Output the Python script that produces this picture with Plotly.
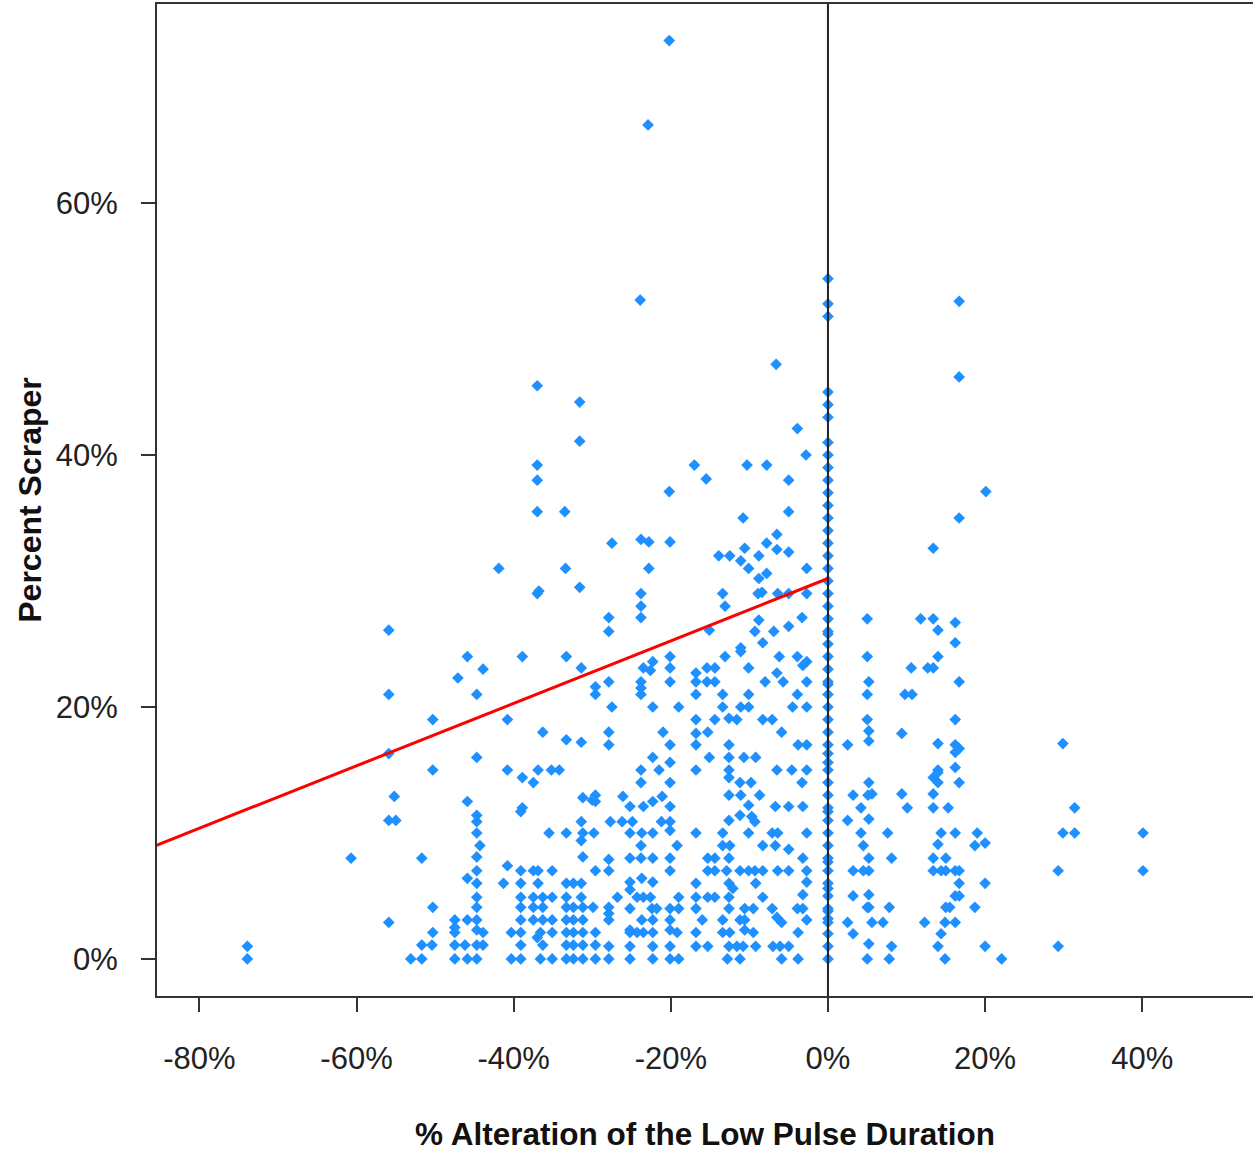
import plotly.graph_objects as go

# scatter points left of zero (% alteration, % scraper), row by row
alt_left = [
    -20.2, -22.9, -23.9, -6.6, -37.0, -31.6, -3.9, -31.6, -2.8, -37.0,
    -37.0, -17.0, -15.5, -10.3, -7.8, -20.2, -5.0, -37.0, -33.5, -10.8, -5.0,
    -6.5, -27.5, -23.8, -22.8, -20.1, -10.6, -7.8, -6.5, -5.0, -13.9,
    -12.5, -11.1, -8.8, -22.8, -10.1, -2.7, -7.8, -8.8, -41.9, -33.4,
    -31.6, -37.0, -36.8, -23.8, -13.4, -8.9, -8.4, -6.4, -5.0, -2.7,
    -23.8, -13.1, -23.8, -27.9, -27.9, -8.8, -3.3, -5.0, -15.1, -9.3, -6.9,
    -8.3, -11.1, -55.9, -45.9, -38.9, -33.3, -20.1, -13.1, -11.1, -6.2, -3.9,
    -43.9, -31.4, -47.1, -29.6, -29.6, -55.9, -44.7, -22.3, -2.7, -23.5, -22.6,
    -20.1, -15.4, -14.4, -10.1, -3.2, -16.8, -16.8, -6.5, -15.4, -14.4, -27.9,
    -23.8, -20.1, -8.0, -5.7, -2.7, -23.8, -23.8, -16.8, -13.4, -10.1, -3.9,
    -27.5, -22.3, -19.0, -13.4, -11.1, -10.1, -4.5, -2.7,
    -50.3, -40.8, -36.3, -33.3, -31.4, -55.9, -44.7, -16.8, -14.4, -12.6, -11.6,
    -8.3, -7.1, -27.9, -21.0, -16.8, -15.3, -5.9, -27.9, -20.1, -16.8, -12.6,
    -3.8, -2.7, -22.3, -20.1, -15.1, -12.6, -10.7, -9.2,
    -50.3, -40.8, -36.9, -35.2, -34.2, -23.8, -21.5, -16.8, -12.6, -6.5, -4.6, -2.7,
    -38.9, -37.5, -12.6, -23.8, -20.1, -11.2, -9.8, -3.3, -55.2, -45.9, -38.9,
    -31.2, -30.0, -29.6, -29.6, -26.1, -22.3, -21.1, -12.6, -11.1, -8.7, -10.1,
    -25.2, -23.5, -20.1, -6.7, -5.0, -3.2, -39.1, -55.9, -55.0, -44.7, -44.7,
    -31.4, -27.7, -26.2, -24.9, -21.2, -20.1, -11.2, -9.7, -9.3, -12.6,
    -44.7, -35.5, -33.3, -31.2, -29.8, -25.2, -23.7, -22.3, -20.1, -16.8, -13.4, -10.1, -7.1, -6.4, -2.7,
    -44.3, -31.4, -23.8, -19.2, -13.4, -12.5, -8.3, -6.7, -5.0,
    -60.7, -51.7, -44.7, -31.2, -27.9, -25.2, -23.8, -22.3, -20.1, -15.3, -14.4, -12.6, -3.2,
    -40.8, -44.7, -39.1, -37.5, -36.9, -35.1, -29.6, -27.9, -20.1, -15.3,
    -14.4, -12.9, -11.2, -10.1, -9.3, -8.3, -6.4, -5.0, -2.7,
    -45.9, -44.7, -41.3, -39.1, -36.9, -33.3, -32.4, -31.4, -25.2, -23.7, -22.3,
    -16.8, -12.6, -12.1, -9.2, -2.7, -25.2,
    -44.7, -39.1, -37.5, -36.3, -35.1, -33.3, -31.4, -26.8, -24.3, -23.5, -22.6,
    -19.0, -16.8, -15.3, -14.4, -12.6, -8.3, -3.2,
    -50.3, -44.7, -39.1, -37.5, -36.3, -33.3, -32.4, -31.2, -29.9, -27.9, -25.2,
    -22.4, -21.8, -20.1, -19.0, -16.8, -12.6, -10.6, -9.5, -7.1, -3.9, -3.2, -27.9,
    -55.9, -47.5, -45.9, -44.7, -39.1, -37.5, -36.3, -35.1, -33.3, -32.4, -31.2,
    -27.9, -23.7, -22.3, -20.1, -16.0, -13.4, -11.2, -10.6, -6.5, -5.9, -2.7,
    -47.5, -44.7, -25.2, -37.0,
    -50.3, -47.5, -43.9, -40.3, -39.1, -36.6, -35.1, -33.3, -32.4, -31.2, -29.6, -25.2,
    -24.3, -23.5, -22.3, -20.1, -19.2, -16.8, -13.4, -12.5, -10.6, -9.5, -3.8,
    -51.7, -50.4, -47.5, -46.2, -44.7, -43.9, -39.1, -36.3, -33.3, -32.4, -31.2, -29.6,
    -27.9, -25.2, -22.3, -20.1, -16.8, -15.3, -12.6, -11.6, -10.8, -9.2, -7.0, -6.1, -5.0,
    -73.9, -73.9, -53.1, -51.7, -47.5, -45.9, -44.7, -40.3, -39.1, -36.6, -35.1,
    -33.3, -32.4, -31.2, -29.6, -27.9, -25.2, -22.3, -20.1, -19.0, -12.8, -11.2, -5.9, -3.8,
]
scr_left = [
    72.9, 66.2, 52.3, 47.2, 45.5, 44.2, 42.1, 41.1, 40.0, 39.2,
    38.0, 39.2, 38.1, 39.2, 39.2, 37.1, 38.0, 35.5, 35.5, 35.0, 35.5,
    33.7, 33.0, 33.3, 33.1, 33.1, 32.6, 33.0, 32.5, 32.3, 32.0,
    32.0, 31.6, 32.0, 31.0, 31.0, 31.0, 30.6, 30.2, 31.0, 31.0,
    29.5, 29.0, 29.2, 29.0, 29.0, 29.0, 29.1, 29.0, 29.0, 29.0,
    28.0, 28.0, 27.1, 27.1, 26.0, 26.9, 27.1, 26.4, 26.1, 26.0, 26.0,
    25.1, 24.7, 26.1, 24.0, 24.0, 24.0, 24.0, 24.0, 24.4, 24.0, 24.0,
    23.0, 23.1, 22.3, 21.6, 21.0, 21.0, 21.0, 23.6, 23.6, 23.1, 22.9,
    23.1, 23.1, 23.1, 23.1, 23.3, 22.7, 22.0, 22.7, 22.0, 22.0, 22.0,
    22.0, 22.0, 22.0, 22.0, 22.0, 21.5, 21.0, 21.0, 21.0, 21.0, 21.0,
    20.0, 20.0, 20.0, 20.0, 20.0, 20.0, 20.0, 20.0,
    19.0, 19.0, 18.0, 17.4, 17.2, 16.3, 16.0, 19.0, 19.0, 19.1, 19.0,
    19.0, 19.0, 18.0, 18.0, 17.9, 18.0, 18.0, 17.0, 17.0, 17.0, 17.0,
    17.0, 17.0, 16.0, 15.6, 16.0, 16.0, 16.0, 16.0,
    15.0, 15.0, 15.0, 15.0, 15.0, 15.0, 15.0, 15.0, 15.0, 15.0, 15.0, 15.0,
    14.4, 14.0, 14.4, 14.0, 14.0, 14.0, 14.0, 14.0, 12.9, 12.5, 12.0,
    12.8, 12.6, 13.0, 12.5, 12.9, 12.5, 12.9, 13.0, 13.0, 13.0, 12.2,
    12.1, 12.1, 12.1, 12.1, 12.1, 12.1, 11.7, 11.0, 11.0, 11.4, 10.9,
    10.9, 10.9, 10.9, 10.9, 10.9, 10.9, 11.4, 11.3, 10.9, 11.0,
    10.0, 10.0, 10.0, 10.0, 10.0, 10.0, 10.0, 10.0, 10.2, 10.0, 10.0, 10.0, 10.0, 10.0, 10.0,
    9.0, 9.4, 9.0, 9.0, 9.0, 9.0, 9.0, 9.0, 8.7,
    8.0, 8.0, 8.1, 8.1, 7.9, 8.0, 8.0, 8.0, 8.0, 8.0, 8.0, 8.0, 8.0,
    7.4, 7.0, 7.0, 7.0, 7.0, 7.0, 7.0, 7.0, 7.0, 7.0,
    7.0, 7.0, 7.0, 7.0, 7.0, 7.0, 7.0, 7.0, 7.0,
    6.4, 6.0, 6.0, 6.0, 6.0, 6.0, 6.0, 6.0, 6.1, 6.4, 6.1,
    6.0, 6.0, 5.6, 6.0, 6.1, 5.5,
    4.9, 4.9, 4.9, 4.9, 4.9, 4.9, 4.9, 4.9, 4.9, 4.9, 4.9,
    4.9, 4.9, 4.9, 4.9, 4.9, 4.9, 5.1,
    4.1, 4.1, 4.1, 4.1, 4.1, 4.1, 4.1, 4.1, 4.1, 4.1, 4.0,
    4.0, 4.0, 4.0, 4.0, 4.0, 4.0, 4.0, 4.0, 4.0, 4.0, 4.0, 3.6,
    2.9, 3.1, 3.1, 3.1, 3.1, 3.1, 3.1, 3.1, 3.1, 3.1, 3.1,
    3.1, 3.1, 3.1, 3.1, 3.1, 3.1, 3.1, 3.1, 3.3, 2.9, 3.1,
    2.5, 2.3, 2.3, 1.7,
    2.1, 2.1, 2.1, 2.1, 2.1, 2.1, 2.1, 2.1, 2.1, 2.1, 2.1, 2.1,
    2.1, 2.1, 2.1, 2.3, 2.1, 2.1, 2.1, 2.1, 2.3, 2.1, 2.1,
    1.1, 1.1, 1.1, 1.1, 1.1, 1.1, 1.1, 1.1, 1.1, 1.1, 1.1, 1.1,
    1.0, 1.0, 1.0, 1.0, 1.0, 1.0, 1.0, 1.0, 1.0, 1.0, 1.0, 1.0, 1.0,
    1.0, 0.0, 0.0, 0.0, 0.0, 0.0, 0.0, 0.0, 0.0, 0.0, 0.0,
    0.0, 0.0, 0.0, 0.0, 0.0, 0.0, 0.0, 0.0, 0.0, 0.0, 0.0, 0.0, 0.0,
]

# points sitting exactly on 0% alteration
scr_zero = [
    54, 52, 51, 45, 44, 43, 41, 40, 39, 38, 37, 36, 35, 34, 33, 32, 31, 30,
    29, 28, 27, 26, 25.8, 25, 24, 23, 22, 21.8, 21, 20, 19, 18, 17, 16.3,
    15.6, 15, 14, 13, 12, 11.7, 11, 10, 9, 8, 7.7, 7, 6, 5.6, 5, 4, 3.8,
    3.2, 2.9, 2, 1, 0,
]

# points right of zero
alt_right = [
    16.7, 16.7, 20.1, 16.7, 13.4, 5.0, 11.8, 13.4, 14.0, 16.2, 16.2,
    5.0, 14.0, 10.6, 12.7, 13.4, 5.2, 16.7, 5.0, 9.8, 10.7,
    5.0, 16.2, 5.2, 9.4, 5.2, 2.5, 14.0, 16.2, 16.7, 16.2, 14.0, 16.2, 29.9,
    14.0, 13.4, 5.2, 14.0, 16.7, 3.2, 5.1, 5.6, 9.4, 13.4,
    4.2, 10.1, 13.4, 15.3, 31.4, 2.5, 5.2, 4.2, 7.6, 14.4, 16.2, 19.0, 29.9, 31.4, 40.1,
    4.5, 14.0, 18.7, 20.0, 5.2, 8.1, 13.4, 15.0,
    3.2, 4.5, 5.2, 13.4, 14.4, 15.0, 16.2, 16.7, 29.3, 40.1, 16.7, 20.0,
    3.2, 5.2, 16.2, 16.7, 5.0, 5.2, 7.8, 15.0, 15.5, 18.7,
    2.5, 5.6, 7.0, 12.3, 14.9, 16.2, 3.2, 14.4, 5.2, 8.1, 14.0, 20.0, 29.3,
    5.0, 7.8, 14.9, 22.1,
]
scr_right = [
    52.2, 46.2, 37.1, 35.0, 32.6, 27.0, 27.0, 27.0, 26.1, 26.7, 25.1,
    24.0, 24.0, 23.1, 23.1, 23.1, 22.0, 22.0, 21.0, 21.0, 21.0,
    19.0, 19.0, 18.1, 17.9, 17.3, 17.0, 17.1, 17.0, 16.7, 16.4, 15.0, 15.2, 17.1,
    14.8, 14.4, 14.0, 14.0, 14.0, 13.0, 13.0, 13.1, 13.1, 13.1,
    12.0, 12.0, 12.0, 12.0, 12.0, 11.0, 11.1, 10.0, 10.0, 10.0, 10.0, 10.0, 10.0, 10.0, 10.0,
    9.0, 9.1, 9.0, 9.2, 8.0, 8.0, 8.0, 8.0,
    7.0, 7.0, 7.0, 7.0, 7.0, 7.0, 7.0, 7.0, 7.0, 7.0, 6.0, 6.0,
    5.0, 5.1, 5.0, 5.0, 4.1, 4.1, 4.1, 4.1, 4.1, 4.1,
    2.9, 2.9, 2.9, 2.9, 2.9, 2.9, 2.0, 2.0, 1.2, 1.0, 1.0, 1.0, 1.0,
    0.0, 0.0, 0.0, 0.0,
]

# fitted line over the negative side
fit_x = [-90, 0]
fit_y = [7.9, 30.2]

x_ticks = [-80, -60, -40, -20, 0, 20, 40]
y_ticks = [0, 20, 40, 60]

xs = alt_left + [0] * len(scr_zero) + alt_right
ys = scr_left + scr_zero + scr_right

fig = go.Figure()
fig.add_trace(go.Scatter(
    x=xs, y=ys, mode="markers",
    marker=dict(symbol="diamond", size=9, color="rgb(30,144,255)", line=dict(width=0)),
    showlegend=False,
))
fig.add_trace(go.Scatter(
    x=fit_x, y=fit_y, mode="lines",
    line=dict(color="red", width=3), showlegend=False,
))
fig.add_shape(type="line", x0=0, x1=0, y0=0, y1=1, xref="x", yref="paper",
              line=dict(color="#222", width=2))

font = dict(family="Liberation Sans, Arial, sans-serif", size=31, color="#222")
fig.update_layout(
    width=1253, height=1157,
    margin=dict(l=157, r=0, t=4, b=161),
    plot_bgcolor="white", paper_bgcolor="white",
    font=font,
    xaxis=dict(
        range=[-85.4, 54.1], tickvals=x_ticks,
        ticktext=[f"{v}%" for v in x_ticks],
        showgrid=False, zeroline=False, automargin=False,
        showline=True, linecolor="#333", linewidth=2, mirror=True,
        ticks="outside", ticklen=14, tickwidth=2, tickcolor="#333",
        ticklabelstandoff=20,
        title=dict(text="<b>% Alteration of the Low Pulse Duration</b>", standoff=48,
                   font=dict(size=31.5, color="#111")),
    ),
    yaxis=dict(
        range=[-2.94, 75.8], tickvals=y_ticks,
        ticktext=[f"{v}%" for v in y_ticks],
        showgrid=False, zeroline=False, automargin=False,
        showline=True, linecolor="#333", linewidth=2,
        ticks="outside", ticklen=14, tickwidth=2, tickcolor="#333",
        ticklabelstandoff=17,
        title=dict(text="<b>Percent Scraper</b>", standoff=5,
                   font=dict(size=32, color="#111")),
    ),
)

# drop the page's default body margin so the figure sits at the window corner
fig.write_html("out.html", config={"displayModeBar": False},
               post_script="document.body.style.margin='0';")
